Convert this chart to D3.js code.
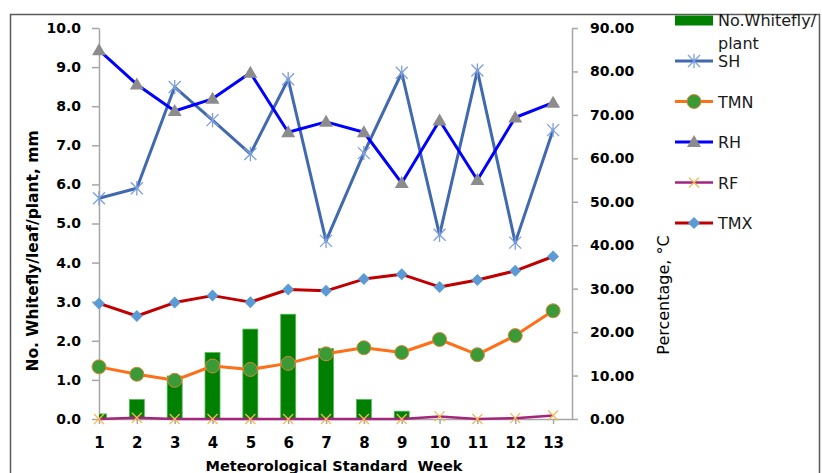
<!DOCTYPE html>
<html>
<head>
<meta charset="utf-8">
<script src="https://cdn.jsdelivr.net/npm/d3@7"></script>
<style>
  body { margin: 0; background: #fff; }
  svg { display: block; font-family: "DejaVu Sans", Verdana, sans-serif; }
</style>
</head>
<body>
<svg id="chart" width="822" height="473"></svg>
<script>
// Weekly whitefly counts and weather, standard weeks 1-13
const weeks = [1, 2, 3, 4, 5, 6, 7, 8, 9, 10, 11, 12, 13];
const whitefly = [0.13, 0.5, 1.1, 1.7, 2.3, 2.68, 1.8, 0.5, 0.2, 0, 0, 0, 0];
const SH  = [50.8, 53.1, 76.4, 68.8, 61.0, 78.2, 41.0, 61.2, 79.7, 42.4, 80.2, 40.6, 66.5];
const TMN = [12.0, 10.3, 8.9, 12.2, 11.4, 12.8, 15.0, 16.4, 15.3, 18.3, 14.8, 19.2, 24.9];
const RH  = [84.9, 77.0, 70.9, 73.7, 79.7, 66.0, 68.4, 66.0, 54.3, 68.7, 55.0, 69.4, 72.8];
const RF  = [0, 0.3, 0, 0, 0, 0, 0, 0, 0, 0.6, 0, 0.2, 0.8];
const TMX = [26.6, 23.7, 26.8, 28.4, 26.9, 29.8, 29.5, 32.2, 33.3, 30.4, 32.0, 34.1, 37.4];
const leftTicks = [0, 1, 2, 3, 4, 5, 6, 7, 8, 9, 10];
const rightTicks = [0, 10, 20, 30, 40, 50, 60, 70, 80, 90];

const svg = d3.select("#chart");
const plotL = 99, plotR = 572, plotT = 28, plotB = 419;

const x = d3.scaleLinear().domain([1, 13.5]).range([plotL, plotR]);
const yL = d3.scaleLinear().domain([0, 10]).range([plotB, plotT]);
const yR = d3.scaleLinear().domain([0, 90]).range([plotB, plotT]);

const axisGrey = "#a6a6a6";

// outer frame
svg.append("path")
  .attr("d", "M10.5,473 L10.5,14.5 L819.5,14.5 L819.5,473")
  .attr("fill", "none").attr("stroke", "#5a5a5a").attr("stroke-width", 1.5);

// clip for the plot area so the first bar is cut at the axis
svg.append("defs").append("clipPath").attr("id", "plot")
  .append("rect").attr("x", plotL).attr("y", 0).attr("width", plotR - plotL).attr("height", plotB + 1);

// left axis
const gL = svg.append("g").attr("transform", `translate(${plotL},0)`)
  .call(d3.axisLeft(yL).tickValues(leftTicks).tickFormat(d3.format(".1f")).tickSize(7).tickSizeOuter(0).tickPadding(11));
// right axis
const gR = svg.append("g").attr("transform", `translate(${plotR},0)`)
  .call(d3.axisRight(yR).tickValues(rightTicks).tickFormat(d3.format(".2f")).tickSize(6).tickSizeOuter(0).tickPadding(12));
// bottom axis
const gB = svg.append("g").attr("transform", `translate(0,${plotB})`)
  .call(d3.axisBottom(x).tickValues(weeks).tickFormat(d3.format("d")).tickSize(5).tickSizeOuter(0).tickPadding(13));

[gL, gR, gB].forEach(g => {
  g.select(".domain").attr("stroke", axisGrey).attr("stroke-width", 1.5);
  g.selectAll(".tick line").attr("stroke", axisGrey).attr("stroke-width", 1.5);
  g.selectAll("text").attr("fill", "#000").attr("font-weight", "bold")
    .attr("font-family", "DejaVu Sans, sans-serif").attr("font-size", 14);
});
gB.selectAll("text").attr("font-size", 15);

// bars
svg.append("g").attr("clip-path", "url(#plot)")
  .selectAll("rect").data(weeks).join("rect")
  .attr("x", (d) => x(d) - 7.5)
  .attr("width", 15)
  .attr("y", (d, i) => yL(whitefly[i]))
  .attr("height", (d, i) => plotB - yL(whitefly[i]))
  .attr("fill", "#008000")
  .attr("stroke", "#5cb85c").attr("stroke-width", 0.8);

// marker shapes
const markers = {
  star: (g, c) => {
    const r = 6;
    g.append("path")
      .attr("d", `M${-r},${-r}L${r},${r}M${-r},${r}L${r},${-r}M0,${-r * 1.2}L0,${r * 1.2}`)
      .attr("stroke", c).attr("stroke-width", 1.3).attr("fill", "none");
  },
  circle: (g, c, c2) => {
    g.append("circle").attr("r", 7).attr("fill", c).attr("stroke", c2).attr("stroke-width", 1);
  },
  triangle: (g, c) => {
    g.append("path").attr("d", "M0,-7L7,5L-7,5Z").attr("fill", c);
  },
  cross: (g, c) => {
    const r = 5;
    g.append("path").attr("d", `M${-r},${-r}L${r},${r}M${-r},${r}L${r},${-r}`)
      .attr("stroke", c).attr("stroke-width", 1.3).attr("fill", "none");
  },
  diamond: (g, c) => {
    g.append("path").attr("d", "M0,-6L6,0L0,6L-6,0Z").attr("fill", c);
  }
};

const series = [
  { name: "SH",  values: SH,  line: "#4069b0", width: 3,   marker: "star",     mc: "#7d9fdc" },
  { name: "TMN", values: TMN, line: "#ff6f18", width: 3,   marker: "circle",   mc: "#3a9a36", mc2: "#d9853b" },
  { name: "RH",  values: RH,  line: "#0000ff", width: 3,   marker: "triangle", mc: "#8c8c8c" },
  { name: "RF",  values: RF,  line: "#a3267a", width: 2.5, marker: "cross",    mc: "#f2bb55" },
  { name: "TMX", values: TMX, line: "#c00000", width: 3,   marker: "diamond",  mc: "#5b9bd5" }
];

const lineGen = d3.line().x((d, i) => x(weeks[i])).y(d => yR(d));

series.forEach(s => {
  const g = svg.append("g");
  g.append("path").datum(s.values).attr("d", lineGen)
    .attr("fill", "none").attr("stroke", s.line).attr("stroke-width", s.width)
    .attr("stroke-linejoin", "round");
  s.values.forEach((v, i) => {
    const m = g.append("g").attr("transform", `translate(${x(weeks[i])},${yR(v)})`);
    markers[s.marker](m, s.mc, s.mc2);
  });
});

// legend
const lg = svg.append("g").attr("font-size", 16).attr("fill", "#1a1a1a");
lg.append("rect").attr("x", 675).attr("y", 15.5).attr("width", 38).attr("height", 10).attr("fill", "#008000");
lg.append("text").attr("x", 718).attr("y", 26).text("No.Whitefly/");
lg.append("text").attr("x", 718).attr("y", 49).text("plant");
series.forEach((s, i) => {
  const cy = 61 + i * 40.5;
  lg.append("line").attr("x1", 675).attr("x2", 713).attr("y1", cy).attr("y2", cy)
    .attr("stroke", s.line).attr("stroke-width", s.width);
  const m = lg.append("g").attr("transform", `translate(694,${cy})`);
  markers[s.marker](m, s.mc, s.mc2);
  lg.append("text").attr("x", 718).attr("y", cy + 6).text(s.name);
});

// axis titles
svg.append("text")
  .attr("transform", "translate(38,251) rotate(-90)")
  .attr("text-anchor", "middle").attr("font-weight", "bold").attr("font-size", 15.5)
  .text("No. Whitefly/leaf/plant, mm");
svg.append("text")
  .attr("transform", "translate(669,295) rotate(-90)")
  .attr("text-anchor", "middle").attr("font-size", 16)
  .text("Percentage, °C");
svg.append("text")
  .attr("x", 334).attr("y", 471)
  .attr("text-anchor", "middle").attr("font-weight", "bold").attr("font-size", 14.5)
  .style("white-space", "pre")
  .text("Meteorological Standard  Week");
</script>
</body>
</html>
